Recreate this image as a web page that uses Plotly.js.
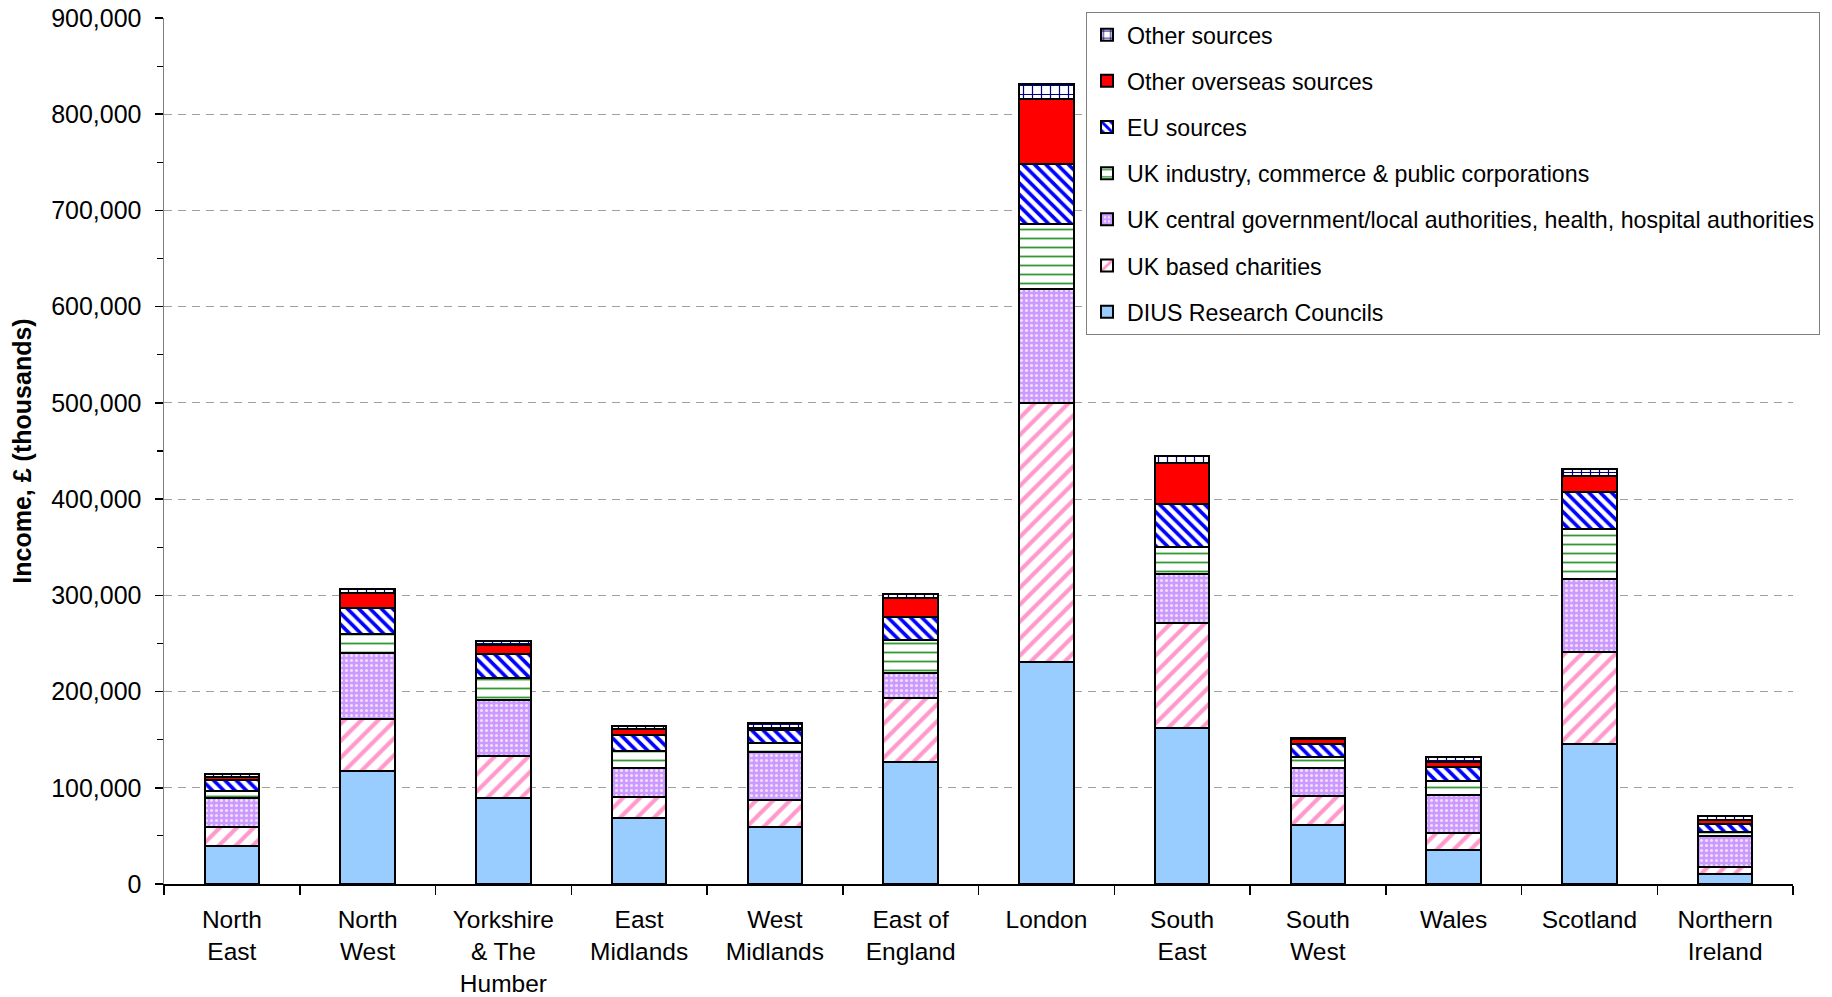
<!DOCTYPE html>
<html>
<head>
<meta charset="utf-8">
<script src="https://cdn.plot.ly/plotly-3.0.1.min.js"></script>
<style>html,body{margin:0;padding:0;background:#fff;}#chart{width:1832px;height:997px;}</style>
</head>
<body>
<div id="chart"></div>
<script>
// Categories (regions)
const regions = ["North<br>East", "North<br>West", "Yorkshire<br>& The<br>Humber", "East<br>Midlands", "West<br>Midlands", "East of<br>England", "London", "South<br>East", "South<br>West", "Wales", "Scotland", "Northern<br>Ireland"];

// Series values, £ thousands
const diusResearchCouncils = [39300, 117600, 89600, 69000, 59000, 127300, 230500, 162000, 61300, 35600, 145400, 10700];
const ukCharities          = [19900, 54400, 43900, 21800, 28000, 66500, 269000, 109000, 30100, 17400, 96100, 6600];
const ukGovernment         = [29700, 68500, 58200, 30200, 49900, 25900, 118700, 51200, 29000, 39400, 75200, 32900];
const ukIndustry           = [7300, 19500, 22300, 17700, 9500, 34000, 68200, 28400, 11800, 14900, 52300, 3400];
const euSources            = [11400, 27000, 24700, 16200, 13600, 23600, 62300, 44000, 13500, 14700, 38000, 9000];
const otherOverseas        = [3400, 15000, 9300, 6200, 2000, 19700, 66800, 43200, 4500, 5000, 17300, 3400];
const otherSources         = [3500, 5000, 4800, 3300, 5200, 4000, 16300, 7000, 2000, 4500, 7000, 4200];

const seriesNames = [
  "DIUS Research Councils",
  "UK based charities",
  "UK central government/local authorities, health, hospital authorities",
  "UK industry, commerce & public corporations",
  "EU sources",
  "Other overseas sources",
  "Other sources"
];

const FONT = "Liberation Sans, Arial, sans-serif";
const outline = {color: "#000000", width: 2};

function bar(idx, values, marker) {
  marker.line = outline;
  return {type: "bar", name: seriesNames[idx], x: regions, y: values, marker: marker,
          legendgroup: "g" + idx, legendrank: 100 - idx, hoverinfo: "y+name"};
}

const traces = [
  bar(0, diusResearchCouncils, {color: "#99CCFF"}),
  bar(1, ukCharities, {color: "#FFFFFF", pattern: {shape: "/", fgcolor: "#FF99CC", bgcolor: "#FFFFFF", size: 12, solidity: 0.35, fillmode: "replace"}}),
  bar(2, ukGovernment, {color: "#CC99FF", pattern: {shape: ".", fgcolor: "#F0E0FF", bgcolor: "#CC99FF", size: 5, solidity: 0.3, fillmode: "replace"}}),
  bar(3, ukIndustry, {color: "#FFFFFF", pattern: {shape: "-", fgcolor: "#339933", bgcolor: "#FFFFFF", size: 9, solidity: 0.2, fillmode: "replace"}}),
  bar(4, euSources, {color: "#FFFFFF", pattern: {shape: "\\", fgcolor: "#0000FF", bgcolor: "#FFFFFF", size: 8, solidity: 0.45, fillmode: "replace"}}),
  bar(5, otherOverseas, {color: "#FF0000"}),
  bar(6, otherSources, {color: "#FFFFFF", pattern: {shape: "+", fgcolor: "#000080", bgcolor: "#FFFFFF", size: 9, solidity: 0.25, fillmode: "replace"}})
];

const layout = {
  width: 1832, height: 997,
  margin: {l: 164, r: 36, t: 18, b: 113},
  paper_bgcolor: "#FFFFFF", plot_bgcolor: "#FFFFFF",
  font: {family: FONT, color: "#000000", size: 24},
  barmode: "stack",
  bargap: 0.6,
  showlegend: true,
  legend: {
    x: 0.566, y: 1.0068, xanchor: "left", yanchor: "top",
    bgcolor: "#FFFFFF", bordercolor: "#808080", borderwidth: 1,
    font: {family: FONT, size: 23.2, color: "#000000"},
    traceorder: "grouped", tracegroupgap: 13
  },
  xaxis: {
    type: "category",
    tickson: "boundaries", ticks: "outside", ticklen: 9, tickwidth: 1.5, tickcolor: "#000000",
    showline: true, linecolor: "#000000", linewidth: 1.5,
    showgrid: false, zeroline: false,
    tickfont: {family: FONT, size: 24.5, color: "#000000"},
    ticklabelstandoff: 13,
    fixedrange: true
  },
  yaxis: {
    range: [0, 900000], dtick: 100000, tick0: 0, tickformat: ",d",
    ticks: "outside", ticklen: 8, tickwidth: 1.5, tickcolor: "#000000",
    minor: {dtick: 50000, ticks: "outside", ticklen: 6, tickwidth: 1.2, tickcolor: "#000000", showgrid: false},
    showline: true, linecolor: "#808080", linewidth: 1.5,
    showgrid: true, gridcolor: "#A0A0A0", gridwidth: 1.2, griddash: "8px,6px",
    zeroline: false,
    tickfont: {family: FONT, size: 25, color: "#000000"},
    ticklabelstandoff: 8,
    title: {text: "<b>Income, £ (thousands)</b>", font: {family: FONT, size: 25, color: "#000000"}, standoff: 12},
    fixedrange: true
  },
  yaxis2: {
    overlaying: "y", side: "left", range: [0, 900000], dtick: 100000, tick0: 0,
    ticks: "inside", ticklen: 7, tickwidth: 1.5, tickcolor: "#000000",
    showticklabels: false, showgrid: false, zeroline: false, showline: false,
    fixedrange: true
  }
};

Plotly.newPlot("chart", traces, layout, {displayModeBar: false, staticPlot: true});
</script>
</body>
</html>
